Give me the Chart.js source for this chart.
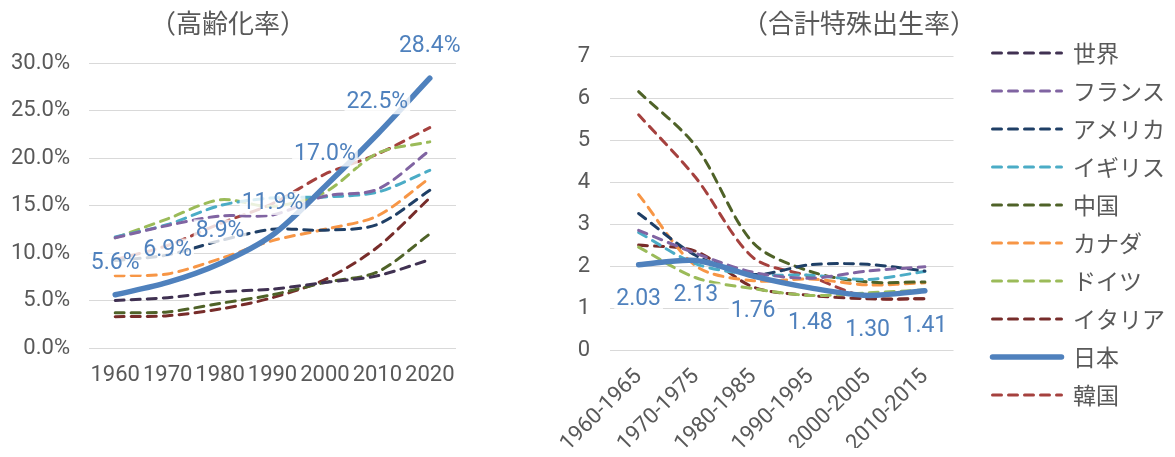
<!DOCTYPE html>
<html lang="ja">
<head>
<meta charset="utf-8">
<script src="https://cdn.jsdelivr.net/npm/chart.js@4"></script>
<style>
  body { margin: 0; background: #fff; }
  #left { position: absolute; left: 0; top: 0; }
  #right { position: absolute; left: 543px; top: 0; }
</style>
</head>
<body>
<canvas id="left" width="480" height="457"></canvas>
<canvas id="right" width="632" height="457"></canvas>
<script>
// 高齢化率 (%)
const years = ['1960', '1970', '1980', '1990', '2000', '2010', '2020']
const agingWorld   = [5.0, 5.3, 5.9, 6.2, 6.9, 7.6, 9.3]
const agingFrance  = [11.6, 12.9, 13.9, 14.0, 16.0, 16.7, 20.8]
const agingUSA     = [9.2, 9.8, 11.3, 12.5, 12.4, 13.0, 16.6]
const agingUK      = [11.7, 13.0, 15.0, 15.8, 15.9, 16.4, 18.7]
const agingChina   = [3.7, 3.8, 4.7, 5.6, 6.9, 8.0, 12.0]
const agingCanada  = [7.6, 7.8, 9.4, 11.3, 12.5, 13.9, 17.9]
const agingGermany = [11.6, 13.6, 15.6, 14.9, 16.4, 20.5, 21.7]
const agingItaly   = [3.3, 3.4, 4.1, 5.3, 7.2, 10.6, 15.8]
const agingJapan   = [5.6, 6.9, 8.9, 11.9, 17.0, 22.5, 28.4]
const agingKorea   = [9.3, 10.8, 13.1, 15.2, 18.3, 20.4, 23.2]
const agingTicks   = [0, 5, 10, 15, 20, 25, 30]

// 合計特殊出生率
const periods = ['1960-1965', '1970-1975', '1980-1985', '1990-1995', '2000-2005', '2010-2015']
const tfrWorld   = [null, null, null, null, null, null]
const tfrFrance  = [2.85, 2.30, 1.85, 1.71, 1.88, 1.98]
const tfrUSA     = [3.25, 2.25, 1.80, 2.03, 2.04, 1.88]
const tfrUK      = [2.80, 2.05, 1.80, 1.78, 1.68, 1.87]
const tfrChina   = [6.15, 4.85, 2.55, 1.87, 1.62, 1.62]
const tfrCanada  = [3.70, 2.00, 1.65, 1.69, 1.55, 1.60]
const tfrGermany = [2.45, 1.72, 1.46, 1.30, 1.36, 1.43]
const tfrItaly   = [2.50, 2.35, 1.50, 1.30, 1.22, 1.22]
const tfrJapan   = [2.03, 2.13, 1.76, 1.48, 1.30, 1.41]
const tfrKorea   = [5.60, 4.10, 2.20, 1.75, 1.25, 1.22]

const countries = ['世界', 'フランス', 'アメリカ', 'イギリス', '中国', 'カナダ', 'ドイツ', 'イタリア', '日本', '韓国']
const colors = ['#403152', '#8064a2', '#1f3f66', '#4bacc6', '#4f6228', '#f79646', '#9bbb59', '#772c2a', '#4f81bd', '#a5413e']

const numFont = "Roboto, 'Noto Sans CJK JP', sans-serif"
const jpFont = "'Noto Sans CJK JP', sans-serif"
const grey = '#595959'

const makeSets = (series) => series.map((values, i) => {
    const japan = countries[i] === '日本'
    return {
        label: countries[i],
        data: values,
        borderColor: colors[i],
        backgroundColor: colors[i],
        borderWidth: japan ? 5.5 : 3,
        borderDash: japan ? [] : [9, 7],
        borderCapStyle: 'round',
        pointRadius: 0,
        pointStyle: 'line',
        tension: 0.3,
        order: japan ? -1 : i   // 日本 drawn on top
    }
})

// value labels for the 日本 series, drawn at the library's point positions
const valueLabels = {
    id: 'valueLabels',
    afterDatasetsDraw(chart, args, opts) {
        const meta = chart.getDatasetMeta(opts.index)
        const values = chart.data.datasets[opts.index].data
        const ctx = chart.ctx
        ctx.save()
        ctx.font = `23px ${numFont}`
        ctx.textAlign = 'center'
        ctx.textBaseline = 'middle'
        meta.data.forEach((pt, i) => {
            const text = values[i].toFixed(opts.digits) + opts.suffix
            const x = pt.x
            const y = pt.y + opts.offset
            const w = ctx.measureText(text).width
            ctx.fillStyle = 'rgba(255,255,255,0.8)'
            ctx.fillRect(x - w / 2 - 2, y - 12, w + 4, 24)
            ctx.fillStyle = '#4f81bd'
            ctx.fillText(text, x, y)
        })
        ctx.restore()
    }
}

// the layout caps a side legend at a quarter of the canvas; let it take what it needs
const wideLegend = {
    id: 'wideLegend',
    afterInit(chart) {
        const legend = chart.legend
        const update = legend.update.bind(legend)
        legend.update = (w, h, m) => update(Math.max(w, 200), h, m)
    }
}

// legend samples keep the dataset's dash pattern
const dashedLabels = (chart) =>
    Chart.defaults.plugins.legend.labels.generateLabels(chart).map(item => {
        const ds = chart.data.datasets[item.datasetIndex]
        return { ...item, lineDash: ds.borderDash, lineWidth: ds.borderWidth, lineCap: 'round', strokeStyle: ds.borderColor }
    })

const titleOpts = (text, bottom) => ({
    display: true,
    text: text,
    color: grey,
    font: { family: jpFont, size: 26, weight: 'normal' },
    padding: { top: 8, bottom: bottom }
})

new Chart(document.getElementById('left'), {
    type: 'line',
    data: {
        labels: years,
        datasets: makeSets([agingWorld, agingFrance, agingUSA, agingUK, agingChina,
            agingCanada, agingGermany, agingItaly, agingJapan, agingKorea])
    },
    options: {
        responsive: false,
        animation: false,
        layout: { padding: { right: 24 } },
        plugins: {
            legend: { display: false },
            tooltip: { enabled: false },
            title: titleOpts('（高齢化率）', 23.8),
            valueLabels: { index: 8, offset: -32, digits: 1, suffix: '%' }
        },
        scales: {
            x: {
                offset: true,
                grid: { display: false },
                border: { display: false },
                ticks: { color: grey, font: { family: numFont, size: 22 }, padding: 6, maxRotation: 0, autoSkip: false },
                afterFit: s => { s.height = 109 }
            },
            y: {
                min: 0,
                max: 30,
                afterBuildTicks: s => { s.ticks = agingTicks.map(v => ({ value: v })) },
                ticks: { color: grey, font: { family: numFont, size: 22 }, padding: 19, callback: v => v.toFixed(1) + '%' },
                grid: { color: '#d9d9d9', drawTicks: false },
                border: { display: false },
                afterFit: s => { s.width = 89 }
            }
        }
    },
    plugins: [valueLabels]
})

new Chart(document.getElementById('right'), {
    type: 'line',
    data: {
        labels: periods,
        datasets: makeSets([tfrWorld, tfrFrance, tfrUSA, tfrUK, tfrChina,
            tfrCanada, tfrGermany, tfrItaly, tfrJapan, tfrKorea])
    },
    options: {
        responsive: false,
        animation: false,
        layout: { padding: { bottom: 9 } },
        plugins: {
            legend: {
                position: 'right',
                labels: {
                    usePointStyle: true,
                    pointStyleWidth: 69,
                    padding: 15,
                    color: grey,
                    font: { family: jpFont, size: 23 },
                    sort: (a, b) => a.datasetIndex - b.datasetIndex,
                    generateLabels: dashedLabels
                }
            },
            tooltip: { enabled: false },
            title: titleOpts('（合計特殊出生率）', 16.8),
            valueLabels: { index: 8, offset: 35, digits: 2, suffix: '' }
        },
        scales: {
            x: {
                offset: true,
                grid: { display: false },
                border: { display: false },
                ticks: { color: grey, font: { family: numFont, size: 22 }, padding: 6, minRotation: 45, maxRotation: 45, autoSkip: false },
                afterFit: s => { s.height = 98 }
            },
            y: {
                min: 0,
                max: 7,
                ticks: { stepSize: 1, color: grey, font: { family: numFont, size: 22 }, padding: 20 },
                grid: { color: '#d9d9d9', drawTicks: false },
                border: { display: false },
                afterFit: s => { s.width = 67 }
            },
            // empty axis used as a gap between the plot and the legend
            gap: {
                type: 'linear',
                position: 'right',
                grid: { display: false },
                border: { display: false },
                ticks: { display: false },
                afterFit: s => { s.width = 24 }
            }
        }
    },
    plugins: [valueLabels, wideLegend]
})
</script>
</body>
</html>
